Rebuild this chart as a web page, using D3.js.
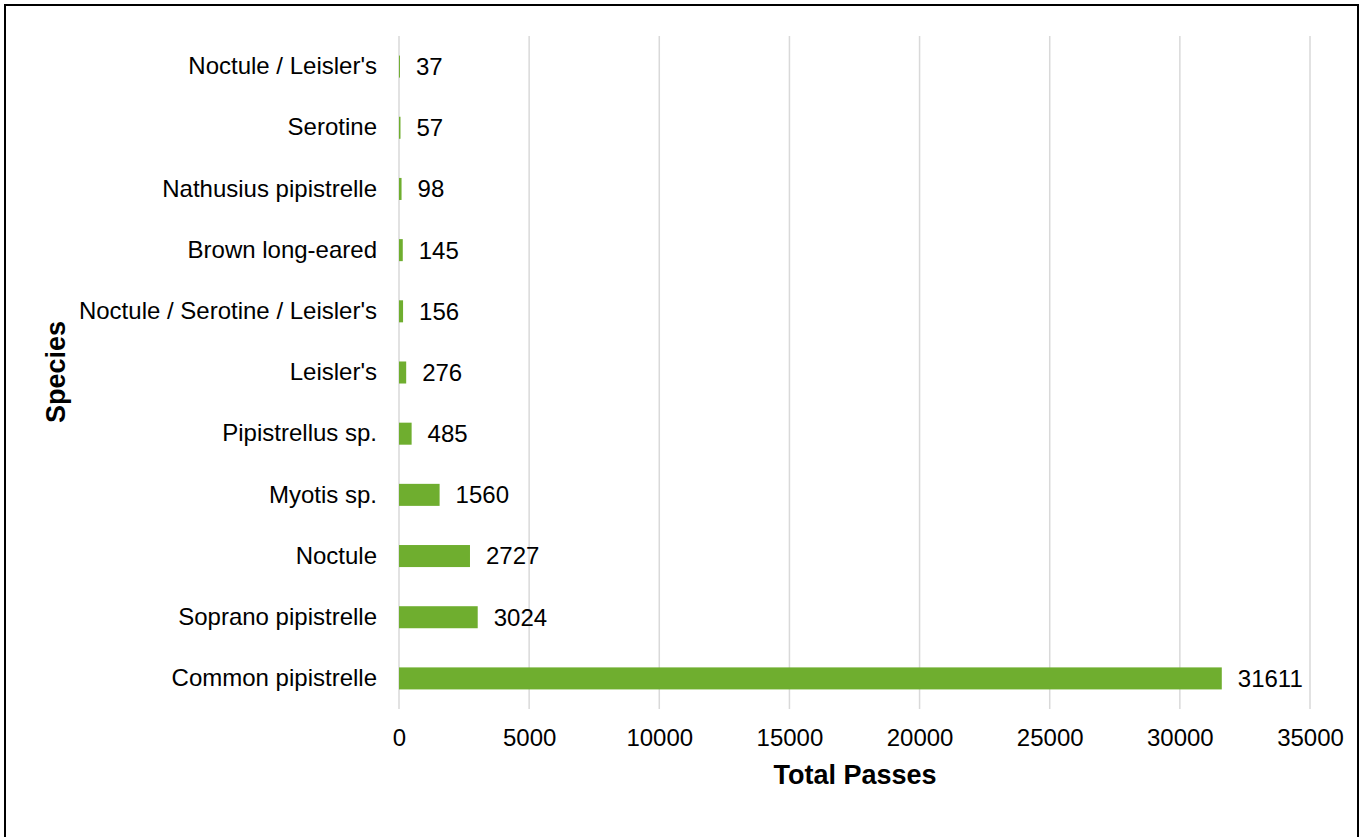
<!DOCTYPE html>
<html>
<head>
<meta charset="utf-8">
<script src="https://cdn.jsdelivr.net/npm/d3@7"></script>
<style>
  body { margin: 0; background: #fff; }
  svg { display: block; font-family: "Liberation Sans", Arial, sans-serif; }
</style>
</head>
<body>
<script>
// data, top to bottom as shown
const species = ["Noctule / Leisler's", "Serotine", "Nathusius pipistrelle", "Brown long-eared",
  "Noctule / Serotine / Leisler's", "Leisler's", "Pipistrellus sp.", "Myotis sp.",
  "Noctule", "Soprano pipistrelle", "Common pipistrelle"];
const passes = [37, 57, 98, 145, 156, 276, 485, 1560, 2727, 3024, 31611];
const xTicks = [0, 5000, 10000, 15000, 20000, 25000, 30000, 35000];

const width = 1365, height = 837;
const margin = { top: 36, right: 55, bottom: 128, left: 399 };
const plotW = 1310 - margin.left;
const plotH = height - margin.top - margin.bottom;
const font = "'Liberation Sans', Arial, sans-serif";

const svg = d3.select("body").append("svg")
  .attr("width", width)
  .attr("height", height);

// outer border
svg.append("rect")
  .attr("x", 5).attr("y", 5)
  .attr("width", 1353).attr("height", 840)
  .attr("fill", "none").attr("stroke", "#000").attr("stroke-width", 2);

const g = svg.append("g")
  .attr("transform", "translate(" + margin.left + "," + margin.top + ")");

const x = d3.scaleLinear().domain([0, 35000]).range([0, plotW]);
const y = d3.scaleBand().domain(species).range([0, plotH]).paddingInner(0.64).paddingOuter(0.32);

// gridlines
g.selectAll(".grid").data(xTicks).enter().append("line")
  .attr("class", "grid")
  .attr("x1", d => x(d)).attr("x2", d => x(d))
  .attr("y1", 0).attr("y2", plotH)
  .attr("stroke", "#d9d9d9").attr("stroke-width", 1.5);

// bars
g.selectAll(".bar").data(passes).enter().append("rect")
  .attr("class", "bar")
  .attr("x", x(0))
  .attr("y", (d, i) => y(species[i]))
  .attr("width", d => x(d) - x(0))
  .attr("height", y.bandwidth())
  .attr("fill", "#6fae2f");

// value labels
g.selectAll(".val").data(passes).enter().append("text")
  .attr("class", "val")
  .attr("x", d => x(d) + 16)
  .attr("y", (d, i) => y(species[i]) + y.bandwidth() / 2)
  .attr("dy", "0.35em")
  .attr("font-size", 24)
  .attr("font-family", font)
  .attr("fill", "#000")
  .text(d => d);

// y axis (category labels)
const yAxis = g.append("g")
  .call(d3.axisLeft(y).tickSize(0).tickPadding(22));
yAxis.select(".domain").remove();
yAxis.selectAll("text").attr("font-size", 24).attr("font-family", font).attr("fill", "#000");

// x axis
const xAxis = g.append("g")
  .attr("transform", "translate(0," + plotH + ")")
  .call(d3.axisBottom(x).tickValues(xTicks).tickFormat(d3.format("d")).tickSize(0).tickPadding(20));
xAxis.select(".domain").remove();
xAxis.selectAll("text").attr("font-size", 24).attr("font-family", font).attr("fill", "#000");

// axis titles
svg.append("text")
  .attr("x", 855)
  .attr("y", 784)
  .attr("text-anchor", "middle")
  .attr("font-family", font)
  .attr("font-size", 27).attr("font-weight", "bold")
  .text("Total Passes");

svg.append("text")
  .attr("transform", "translate(65,372) rotate(-90)")
  .attr("text-anchor", "middle")
  .attr("font-family", font)
  .attr("font-size", 27).attr("font-weight", "bold")
  .text("Species");
</script>
</body>
</html>
